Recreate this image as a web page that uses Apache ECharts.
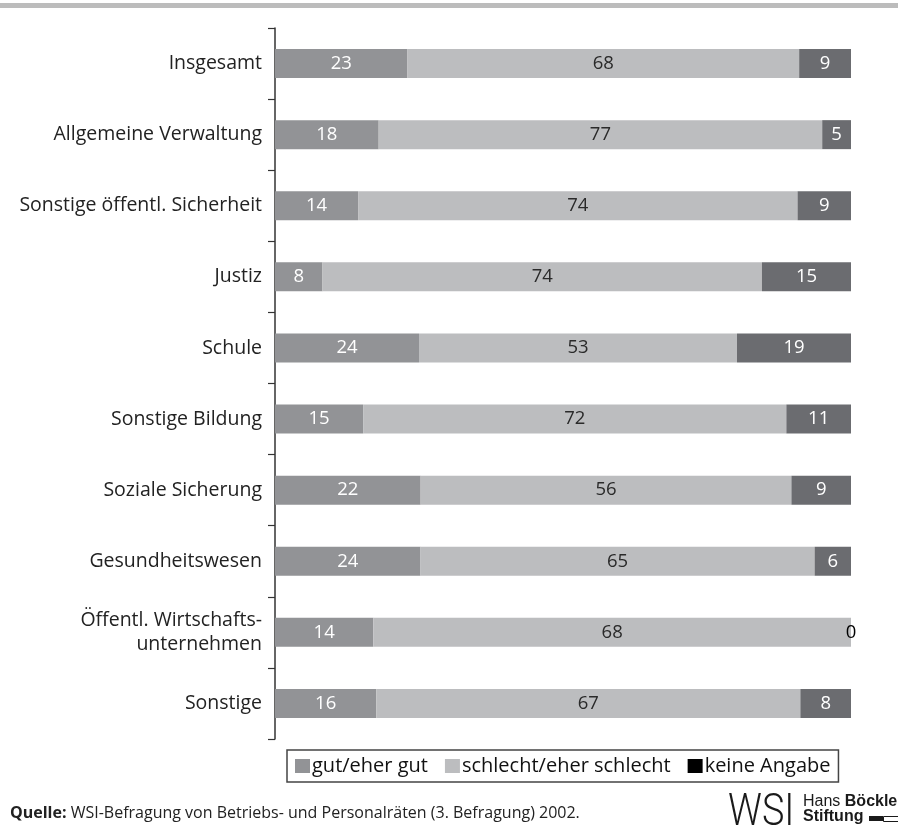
<!DOCTYPE html>
<html>
<head>
<meta charset="utf-8">
<script src="https://cdn.jsdelivr.net/npm/echarts@6/dist/echarts.min.js"></script>
<style>
  html, body { margin: 0; padding: 0; background: #fff; }
  #chart { width: 898px; height: 833px; }
</style>
</head>
<body>
<div id="chart"></div>
<script>
// Ratings by sector (percent of respondents)
const categories = [
  'Insgesamt',
  'Allgemeine Verwaltung',
  'Sonstige öffentl. Sicherheit',
  'Justiz',
  'Schule',
  'Sonstige Bildung',
  'Soziale Sicherung',
  'Gesundheitswesen',
  'Öffentl. Wirtschafts-\nunternehmen',
  'Sonstige'
];
const seriesNames = ['gut/eher gut', 'schlecht/eher schlecht', 'keine Angabe'];
const gut      = [23, 18, 14,  8, 24, 15, 22, 24, 14, 16];
const schlecht = [68, 77, 74, 74, 53, 72, 56, 65, 68, 67];
const keine    = [ 9,  5,  9, 15, 19, 11,  9,  6,  0,  8];

const FONT = 'Open Sans';
const colors = ['#929396', '#bcbdbf', '#6b6c70'];
const legendColors = ['#929396', '#bcbdbf', '#000000'];
const labelColors = ['#ffffff', '#2a2a2a', '#ffffff'];

// Each bar is scaled to the full row width (shares of the stated answers)
const totals = categories.map((_, i) => gut[i] + schlecht[i] + keine[i]);
function toItems(arr) {
  return arr.map((v, i) => {
    const item = { value: v / totals[i] * 100, raw: v };
    if (v === 0) item.label = { color: '#000' };
    return item;
  });
}

const rawSeries = [gut, schlecht, keine];
const series = rawSeries.map((arr, k) => ({
  name: seriesNames[k],
  type: 'bar',
  stack: 'total',
  barWidth: 29,
  data: toItems(arr),
  itemStyle: { color: colors[k] },
  label: {
    show: true,
    position: 'inside',
    fontFamily: FONT,
    fontSize: 18.5,
    color: labelColors[k],
    formatter: p => String(p.data.raw)
  },
  emphasis: { disabled: true }
}));

const chart = echarts.init(document.getElementById('chart'), null, { renderer: 'canvas' });
chart.setOption({
  animation: false,
  backgroundColor: '#ffffff',
  grid: { left: 275, right: 47, top: 28, bottom: 94, containLabel: false },
  xAxis: {
    type: 'value',
    min: 0,
    max: 100,
    show: false
  },
  yAxis: {
    type: 'category',
    inverse: true,
    data: categories,
    axisLine: { show: true, lineStyle: { color: '#333', width: 1.5 } },
    axisTick: { show: true, length: 7, lineStyle: { color: '#333', width: 1.2 } },
    axisLabel: {
      margin: 13,
      fontFamily: FONT,
      fontSize: 19.5,
      color: '#222',
      lineHeight: 24,
      align: 'right'
    },
    splitLine: { show: false }
  },
  legend: {
    left: 287,
    top: 750,
    orient: 'horizontal',
    padding: [6, 8, 6, 8],
    itemGap: 17,
    itemWidth: 15,
    itemHeight: 14,
    icon: 'rect',
    borderColor: '#444',
    borderWidth: 1.5,
    selectedMode: false,
    textStyle: { fontFamily: FONT, fontSize: 20, color: '#111', padding: [0, 0, 0, -3] },
    data: seriesNames.map((n, k) => ({ name: n, itemStyle: { color: legendColors[k] } }))
  },
  graphic: [
    // thin band across the top
    { type: 'rect', left: 0, top: 3, shape: { width: 898, height: 5 }, style: { fill: '#bcbcbc' } },
    // source line
    {
      type: 'text', left: 10, top: 805,
      style: {
        text: '{b|Quelle:} WSI-Befragung von Betriebs- und Personalräten (3. Befragung) 2002.',
        fontFamily: FONT, fontSize: 16, fill: '#222',
        rich: { b: { fontFamily: FONT, fontSize: 16, fontWeight: 'bold', fill: '#222' } }
      }
    },
    // WSI mark
    {
      type: 'text', x: 728, y: 791, scaleX: 0.84,
      style: { text: 'WSI', fontFamily: 'Roboto', fontWeight: 300, fontSize: 45, fill: '#1a1a1a' }
    },
    {
      type: 'text', left: 803, top: 794,
      style: {
        text: 'Hans {b|Böckler}',
        fontFamily: 'Liberation Sans', fontSize: 16, fill: '#1a1a1a',
        rich: { b: { fontFamily: 'Liberation Sans', fontSize: 16, fontWeight: 'bold', fill: '#1a1a1a' } }
      }
    },
    {
      type: 'text', left: 803, top: 809,
      style: { text: 'Stiftung', fontFamily: 'Liberation Sans', fontSize: 16, fontWeight: 'bold', fill: '#1a1a1a' }
    },
    { type: 'rect', left: 869, top: 816, shape: { width: 14, height: 5 }, style: { fill: '#1a1a1a' } },
    { type: 'rect', left: 883, top: 816, shape: { width: 16, height: 5 }, style: { fill: '#fff', stroke: '#1a1a1a', lineWidth: 1 } }
  ],
  series: series
});
</script>
</body>
</html>
